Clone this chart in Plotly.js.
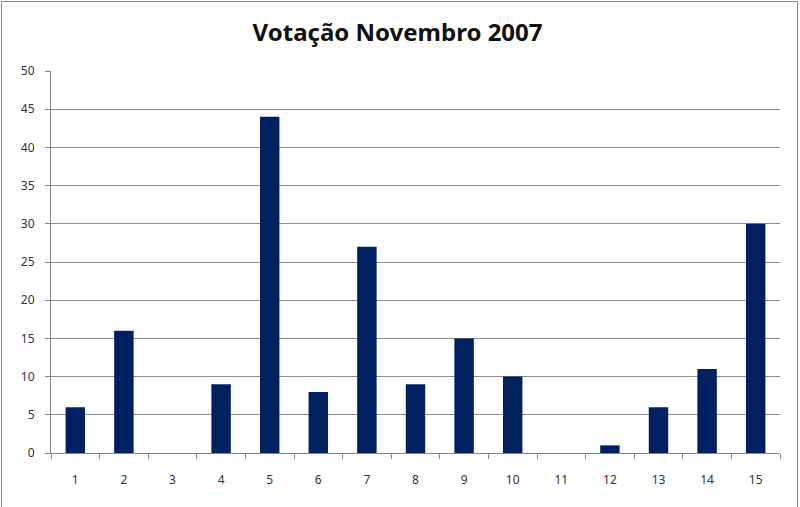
<!DOCTYPE html>
<html>
<head>
<meta charset="utf-8">
<script src="https://cdn.plot.ly/plotly-3.0.1.min.js"></script>
<style>
  html, body { margin: 0; padding: 0; background: #fff; }
  #wrap { position: relative; width: 800px; height: 507px; }
  #chart { width: 800px; height: 507px; }
  #frame { position: absolute; left: 1px; top: 1px; width: 795px; height: 510px;
           border: 1px solid #8a8a8a; pointer-events: none; }
</style>
</head>
<body>
<div id="wrap">
  <div id="chart"></div>
  <div id="frame"></div>
</div>
<script>
const categories = ["1","2","3","4","5","6","7","8","9","10","11","12","13","14","15"];
const votes = [6, 16, 0, 9, 44, 8, 27, 9, 15, 10, 0, 1, 6, 11, 30];
const chartTitle = "Votação Novembro 2007";

const trace = {
  x: categories,
  y: votes,
  type: "bar",
  marker: { color: "#002060" },
  hoverinfo: "x+y"
};

const layout = {
  width: 800,
  height: 507,
  margin: { l: 51, r: 20, t: 71, b: 54 },
  paper_bgcolor: "#fff",
  plot_bgcolor: "#fff",
  bargap: 0.6,
  showlegend: false,
  font: { family: "Noto Sans, DejaVu Sans, sans-serif", size: 12, color: "#333" },
  title: {
    text: "<b>" + chartTitle + "</b>",
    font: { family: "Noto Sans, DejaVu Sans, sans-serif", size: 24, color: "#111" },
    x: 0.497, xanchor: "center",
    y: 0.935, yanchor: "middle"
  },
  xaxis: {
    type: "category",
    tickson: "boundaries",
    ticks: "outside",
    ticklen: 5,
    tickcolor: "#868686",
    showgrid: false,
    showline: true,
    linecolor: "#868686",
    linewidth: 1,
    zeroline: false,
    tickfont: { size: 12, color: "#333" },
    ticklabelstandoff: 16
  },
  yaxis: {
    range: [0, 50],
    dtick: 5,
    ticks: "outside",
    ticklen: 5,
    tickcolor: "#868686",
    showgrid: true,
    gridcolor: "#8c8c8c",
    gridwidth: 1,
    showline: true,
    linecolor: "#868686",
    zeroline: false,
    tickfont: { size: 12, color: "#333" },
    ticklabelstandoff: 8
  }
};

Plotly.newPlot("chart", [trace], layout, { displayModeBar: false, staticPlot: true });
</script>
</body>
</html>
